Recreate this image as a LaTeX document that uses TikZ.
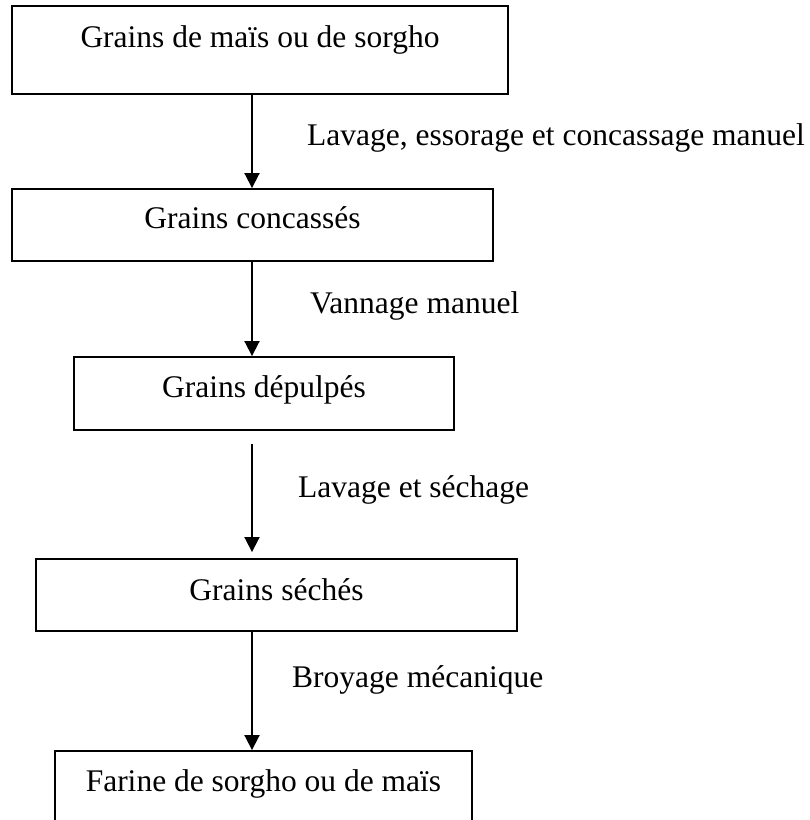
\documentclass[tikz,border=0pt]{standalone}
\usepackage{fontspec}
\setmainfont{Liberation Serif}
\usetikzlibrary{arrows.meta,calc}

\tikzset{
  stage/.style={draw, rectangle, line width=1.9pt, inner sep=0pt, anchor=base,
    font=\fontsize{31.5}{38}\selectfont},
  flow/.style={line width=1.9pt, -{Triangle[length=15pt,width=15pt]}},
  steplabel/.style={anchor=base west, inner sep=0pt, font=\fontsize{31.5}{38}\selectfont}
}

\begin{document}
\begin{tikzpicture}[x=1pt, y=-1pt]
    \useasboundingbox (0,0) rectangle (810,820);
    \clip (0,0) rectangle (810,820);
    \coordinate (axis) at (252,0);

    % Stage boxes
    \node[stage, minimum width=496pt, text height=41pt, text depth=47pt] (grains) at (260,47) {Grains de maïs ou de sorgho};
    \node[stage, minimum width=481pt, text height=39pt, text depth=33pt] (concasses) at (252.5,228) {Grains concassés};
    \node[stage, minimum width=380pt, text height=40pt, text depth=33pt] (depulpes) at (264,397) {Grains dépulpés};
    \node[stage, minimum width=481pt, text height=41pt, text depth=31pt] (seches) at (276.5,600) {Grains séchés};
    \node[stage, minimum width=417pt, text height=40pt, text depth=35pt] (farine) at (263.5,791) {Farine de sorgho ou de maïs};

    % Arrows between stages
    \draw[flow] (grains.south -| axis) -- (concasses.north -| axis);
    \draw[flow] (concasses.south -| axis) -- (depulpes.north -| axis);
    \draw[flow] ($(depulpes.south -| axis)+(0,13)$) -- ($(seches.north -| axis)+(0,-6)$);
    \draw[flow] (seches.south -| axis) -- (farine.north -| axis);

    % Operation labels
    \node[steplabel] (lavage) at (307,145) {Lavage, essorage et concassage manuel};
    \node[steplabel] (vannage) at (310,313) {Vannage manuel};
    \node[steplabel] (sechage) at (298,497) {Lavage et séchage};
    \node[steplabel] (broyage) at (292,687) {Broyage mécanique};
\end{tikzpicture}
\end{document}
